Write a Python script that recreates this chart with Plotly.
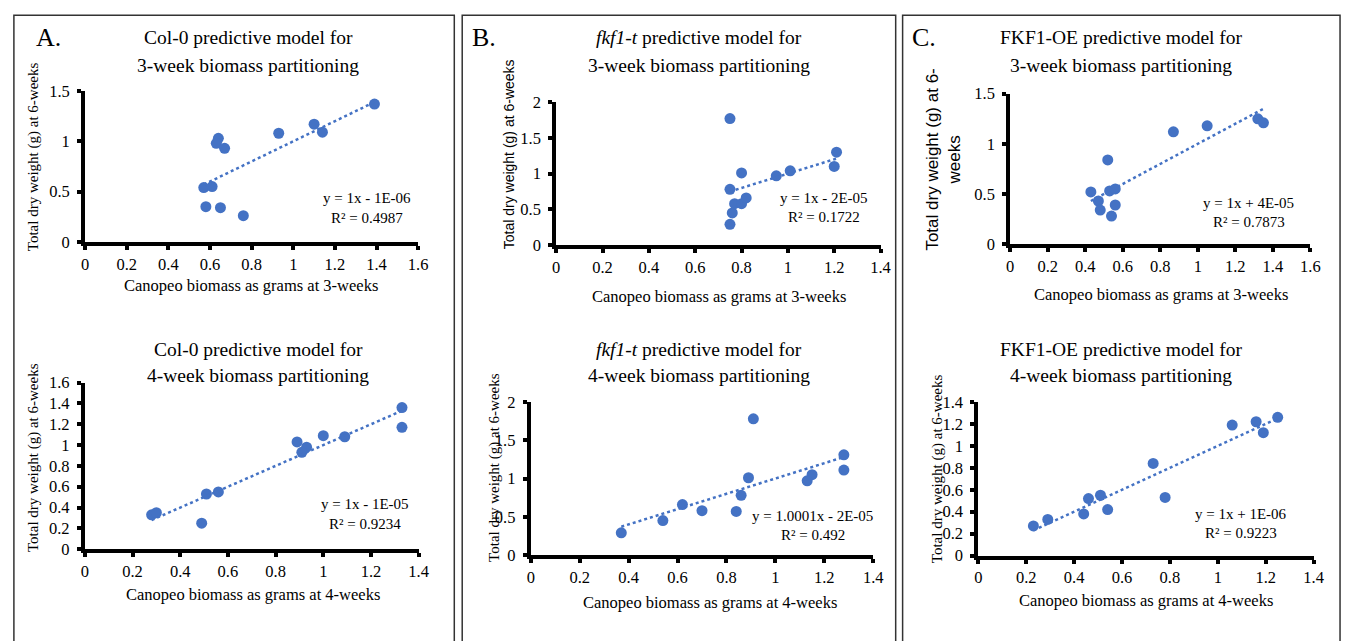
import plotly.graph_objects as go

W, H = 1354, 641

# ---------------- data ----------------
a3_x = [1.39, 1.10, 1.14, 0.93, 0.64, 0.63, 0.67, 0.57, 0.61, 0.58, 0.65, 0.76]
a3_y = [1.37, 1.17, 1.09, 1.08, 1.03, 0.98, 0.93, 0.54, 0.55, 0.35, 0.34, 0.26]

a4_x = [1.33, 1.33, 1.09, 1.00, 0.89, 0.93, 0.91, 0.56, 0.51, 0.49, 0.28, 0.30]
a4_y = [1.36, 1.17, 1.08, 1.09, 1.03, 0.98, 0.93, 0.55, 0.53, 0.25, 0.33, 0.35]

b3_x = [0.75, 0.75, 0.80, 0.75, 0.76, 0.77, 0.80, 0.82, 0.95, 1.01, 1.21, 1.20]
b3_y = [1.77, 0.78, 1.01, 0.29, 0.45, 0.58, 0.58, 0.66, 0.97, 1.04, 1.30, 1.10]

b4_x = [0.91, 1.28, 1.28, 1.15, 1.13, 0.89, 0.86, 0.84, 0.70, 0.62, 0.54, 0.37]
b4_y = [1.78, 1.31, 1.11, 1.05, 0.97, 1.01, 0.78, 0.57, 0.58, 0.66, 0.45, 0.29]

c3_x = [1.32, 1.35, 1.05, 0.87, 0.52, 0.43, 0.53, 0.56, 0.47, 0.48, 0.56, 0.54]
c3_y = [1.25, 1.21, 1.18, 1.12, 0.84, 0.52, 0.53, 0.55, 0.43, 0.34, 0.39, 0.28]

c4_x = [1.25, 1.16, 1.19, 1.06, 0.73, 0.78, 0.51, 0.46, 0.54, 0.44, 0.29, 0.23]
c4_y = [1.26, 1.22, 1.12, 1.19, 0.84, 0.53, 0.55, 0.52, 0.42, 0.38, 0.33, 0.27]

# trendline coefficients shown on the chart
slopes = [1, 1, 1, 1.0001, 1, 1]
intercepts = [-1e-06, -1e-05, -2e-05, -2e-05, 4e-05, 1e-06]
eq_labels = ["y = 1x - 1E-06", "y = 1x - 1E-05", "y = 1x - 2E-05",
             "y = 1.0001x - 2E-05", "y = 1x + 4E-05", "y = 1x + 1E-06"]
r2_labels = ["R² = 0.4987", "R² = 0.9234", "R² = 0.1722",
             "R² = 0.492", "R² = 0.7873", "R² = 0.9223"]

titles = [
    ("Col-0 predictive model for", "3-week biomass partitioning"),
    ("Col-0 predictive model for", "4-week biomass partitioning"),
    ("<i>fkf1-t</i> predictive model for", "3-week biomass partitioning"),
    ("<i>fkf1-t</i> predictive model for", "4-week biomass partitioning"),
    ("FKF1-OE predictive model for", "3-week biomass partitioning"),
    ("FKF1-OE predictive model for", "4-week biomass partitioning"),
]
xtitles = ["Canopeo biomass as grams at 3-weeks", "Canopeo biomass as grams at 4-weeks"] * 3
ytitle = "Total dry weight (g) at 6-weeks"
ytitle_c3 = "Total dry weight (g) at 6-<br>weeks"
panel_letters = ["A.", "B.", "C."]

series = [(a3_x, a3_y), (a4_x, a4_y), (b3_x, b3_y), (b4_x, b4_y), (c3_x, c3_y), (c4_x, c4_y)]

# ---------------- layout geometry (pixels) ----------------
geo = [
    dict(x=(82, 418.5), y=(84.5, 240), xr=(1.6, 0.2), yr=(1.5, 0.5)),
    dict(x=(81.7, 419), y=(385, 556.7), xr=(1.4, 0.2), yr=(1.6, 0.2)),
    dict(x=(558, 885.7), y=(96, 243.3), xr=(1.4, 0.2), yr=(2, 0.5)),
    dict(x=(532.3, 878.3), y=(405, 562.7), xr=(1.4, 0.2), yr=(2, 0.5)),
    dict(x=(1016.7, 1320), y=(87.3, 242.3), xr=(1.6, 0.2), yr=(1.5, 0.5)),
    dict(x=(984.5, 1323.3), y=(405, 563.3), xr=(1.4, 0.2), yr=(1.4, 0.2)),
]
title_pos = [(247, 29, 58), (257, 351, 378), (702, 29, 58), (702, 351, 378), (1129, 29, 58), (1129, 351, 378)]
xtitle_pos = [(250, 285), (252, 603), (722, 296), (713, 612), (1169, 294), (1154, 610)]
ytitle_pos = [(30, 152), (30, 462), (510, 150), (495, 472), (949, 155), (944, 474)]
eq_pos = [(367, 195, 215), (365, 510, 531), (829, 195, 214), (817, 522, 542), (1258, 200, 220), (1250, 520, 540)]
letter_pos = [(45, 29), (485, 29), (930, 29)]
borders = [(10, 455), (463, 901), (908, 1350)]

BLUE = "#4472C4"
SERIF = "Liberation Serif"
SANS = "Liberation Sans"

fig = go.Figure()
annotations = []
shapes = []


def px_ann(text, x, y, size, family=SERIF, angle=0):
    annotations.append(dict(
        text=text, x=x / W, y=1 - y / H, xref="paper", yref="paper",
        xanchor="center", yanchor="middle", showarrow=False, textangle=angle,
        font=dict(family=family, size=size, color="black")))


for i, ((xs, ys), g) in enumerate(zip(series, geo)):
    n = "" if i == 0 else str(i + 1)
    xa, ya = "x" + n, "y" + n
    fig.add_trace(go.Scatter(
        x=xs, y=ys, xaxis=xa, yaxis=ya, mode="markers",
        marker=dict(color=BLUE, size=11), cliponaxis=False, showlegend=False))
    lo, hi = min(xs), max(xs)
    fig.add_trace(go.Scatter(
        x=[lo, hi], y=[slopes[i] * lo + intercepts[i], slopes[i] * hi + intercepts[i]],
        xaxis=xa, yaxis=ya, mode="lines", cliponaxis=False,
        line=dict(color=BLUE, width=2.5, dash="dot"), showlegend=False))

    common = dict(showline=True, linewidth=4, linecolor="black", ticks="outside",
                  ticklen=4, tickwidth=4, tickcolor="black", showgrid=False,
                  zeroline=False, tick0=0, fixedrange=True,
                  tickfont=dict(family=SERIF, size=16.5, color="black"))
    fig.layout["xaxis" + n] = dict(
        domain=[g["x"][0] / W, g["x"][1] / W], range=[0, g["xr"][0]],
        dtick=g["xr"][1], anchor=ya, ticklabelstandoff=0, **common)
    fig.layout["yaxis" + n] = dict(
        domain=[1 - g["y"][1] / H, 1 - g["y"][0] / H], range=[0, g["yr"][0]],
        dtick=g["yr"][1], anchor=xa, ticklabelstandoff=4, **common)

    tx, ty1, ty2 = title_pos[i]
    px_ann(titles[i][0], tx, ty1, 19.5)
    px_ann(titles[i][1], tx, ty2, 19.5)
    px_ann(xtitles[i], xtitle_pos[i][0], xtitle_pos[i][1], 16.5)
    yx, yy = ytitle_pos[i]
    if i == 4:
        px_ann(ytitle_c3, yx, yy, 17, SANS, -90)
    elif i == 2:
        px_ann(ytitle, yx, yy, 14, SANS, -90)
    else:
        px_ann(ytitle, yx, yy, 15, SERIF, -90)
    ex, ey1, ey2 = eq_pos[i]
    px_ann(eq_labels[i], ex, ey1, 15)
    px_ann(r2_labels[i], ex, ey2, 15)

for (lx, ly), letter in zip(letter_pos, panel_letters):
    px_ann(letter, lx, ly, 26)

for (bx0, bx1) in borders:
    shapes.append(dict(type="rect", xref="paper", yref="paper",
                       x0=bx0 / W, x1=bx1 / W, y0=-0.05, y1=1 - 6.5 / H,
                       line=dict(color="#333333", width=1.5)))

fig.update_layout(
    width=W, height=H, margin=dict(l=0, r=0, t=0, b=0),
    paper_bgcolor="white", plot_bgcolor="white",
    annotations=annotations, shapes=shapes, showlegend=False,
)

fig.write_html("out.html", config={"displayModeBar": False},
               post_script="document.body.style.margin='0';document.body.style.overflow='hidden';")
